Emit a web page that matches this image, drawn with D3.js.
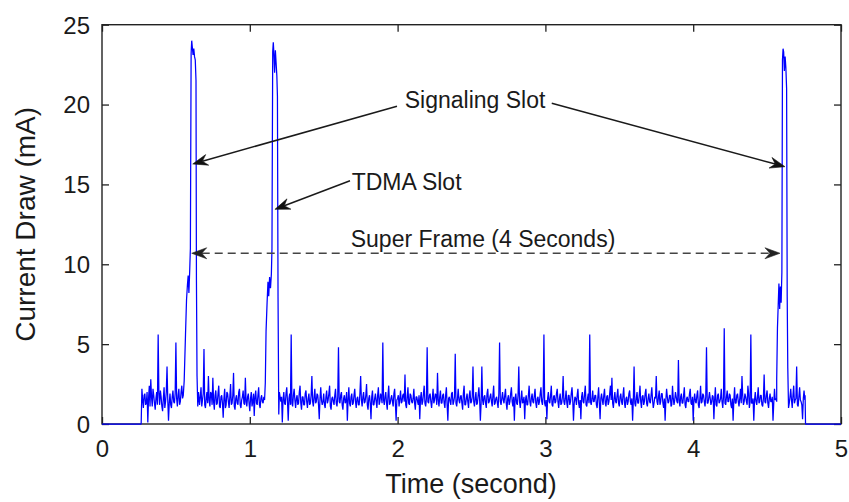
<!DOCTYPE html>
<html>
<head>
<meta charset="utf-8">
<script src="https://cdn.jsdelivr.net/npm/d3@7"></script>
<style>
  html, body { margin: 0; padding: 0; background: #fff; }
  svg { display: block; }
  text { font-family: "Liberation Sans", Arial, Helvetica, sans-serif; fill: #1a1a1a; }
</style>
</head>
<body>
<svg id="chart" width="849" height="502"></svg>
<script>
// ---------------- DATA ----------------
const xTicks = [0, 1, 2, 3, 4, 5];
const yTicks = [0, 5, 10, 15, 20, 25];
const xLabel = "Time (second)";
const yLabel = "Current Draw (mA)";

const sampleStep = 0.01; // seconds between the "even" noise samples; "odd" samples sit half-way

// quiet period before the radio wakes up
const leadIn = [[0, 0], [0.265, 0]];

// baseline noise segments (mA)
const segAStart = 0.27;
const segA = [2.2, 1.0, 1.9, 1.3, 0.1, 2.4, 2.8, 1.1, 1.8, 0.9,
              2.0, 5.6, 1.2, 1.7, 0.8, 2.3, 1.4, 3.6, 0.2, 1.9,
              1.0, 2.1, 1.3, 5.1, 1.1, 2.2, 1.4, 2.4];
const segAOdd = [1.5, 1.8, 1.2, 2.0, 1.6, 1.1, 1.7, 2.2, 1.3, 1.6,
                 1.2, 1.9, 2.1, 1.1, 1.6, 1.0, 2.0, 1.5, 1.3, 1.2,
                 1.7, 1.4, 1.9, 1.6, 1.8, 1.2, 2.0, 1.6];

const spike1 = [[0.55, 1.8], [0.556, 2.7], [0.565, 5.6], [0.572, 7.8], [0.578, 8.7],
                [0.583, 9.3], [0.588, 8.2], [0.593, 9.5], [0.598, 11.0], [0.603, 23.2],
                [0.607, 24.0], [0.611, 23.6], [0.616, 23.1], [0.621, 23.5], [0.626, 23.0],
                [0.631, 22.8], [0.636, 21.5], [0.639, 9.0], [0.643, 3.0], [0.648, 1.1], [0.653, 2.0]];

const segBStart = 0.66;
const segB = [1.2, 2.3, 1.5, 4.7, 1.0, 2.0, 3.0, 1.1, 1.9, 2.9,
              0.9, 2.1, 1.3, 2.4, 1.0, 1.8, 0.4, 2.2, 1.2, 1.9,
              1.0, 2.5, 1.3, 3.2, 0.9, 1.8, 1.2, 2.2, 1.0, 1.7,
              1.3, 2.9, 1.1, 1.9, 0.8, 2.0, 1.4, 0.5, 2.1, 1.2,
              2.3, 1.0, 1.8, 1.3];
const segBOdd = [1.7, 1.1, 1.9, 1.2, 1.6, 1.3, 1.5, 2.0, 1.2, 1.4,
                 1.8, 1.2, 1.9, 1.1, 1.7, 1.3, 1.6, 1.0, 2.0, 1.4,
                 1.7, 1.2, 1.8, 1.1, 1.6, 1.3, 2.0, 1.2, 1.5, 2.1,
                 1.2, 1.4, 1.7, 1.3, 1.6, 1.1, 1.9, 1.7, 1.3, 1.8,
                 1.2, 1.6, 1.4, 1.7];

const spike2 = [[1.10, 1.5], [1.105, 2.6], [1.11, 5.8], [1.117, 7.6], [1.123, 8.9],
                [1.128, 8.0], [1.134, 9.2], [1.14, 8.5], [1.146, 9.4], [1.150, 11.0],
                [1.155, 23.3], [1.159, 23.9], [1.163, 23.2], [1.168, 22.0], [1.173, 23.4],
                [1.178, 22.6], [1.183, 21.8], [1.187, 20.5], [1.191, 8.0], [1.196, 0.6], [1.20, 2.0]];

const segCStart = 1.21;
const segC = [1.4, 0.1, 2.0, 1.2, 2.3, 0.2, 1.9, 5.6, 1.1, 2.2,
              1.0, 1.8, 1.3, 2.4, 0.9, 1.7, 1.2, 2.1, 1.0, 1.9,
              1.3, 3.0, 1.1, 2.2, 1.4, 1.8, 0.3, 2.3, 1.2, 1.9,
              1.0, 2.1, 1.5, 2.4, 0.9, 1.7, 1.2, 2.2, 1.1, 4.8,
              1.3, 2.0, 0.9, 1.8, 1.4, 0.2, 2.3, 1.1, 1.9, 1.3,
              2.2, 1.0, 1.7, 1.2, 3.0, 1.1, 2.0, 1.4, 2.5, 0.9,
              1.8, 0.3, 2.1, 1.2, 1.9, 1.0, 2.3, 1.4, 1.7, 5.1,
              1.2, 2.0, 0.9, 2.4, 1.3, 1.8, 1.1, 2.2, 0.2, 1.6,
              1.1, 2.1, 1.4, 1.9, 3.1, 1.0, 2.3, 1.2, 1.8, 1.3,
              2.2, 0.9, 1.7, 1.2, 0.3, 2.0, 1.4, 2.4, 1.1, 4.8,
              1.3, 1.9, 1.0, 2.2, 1.5, 1.8, 3.2, 1.1, 2.1, 1.3,
              1.9, 1.0, 2.3, 0.2, 1.7, 1.2, 2.0, 1.4, 4.4, 1.1,
              2.2, 1.3, 1.8, 0.9, 2.4, 1.2, 1.9, 1.0, 2.1, 1.4,
              3.6, 1.1, 2.0, 1.3, 2.3, 0.2, 3.6, 1.2, 1.8, 1.0,
              2.2, 1.4, 1.9, 1.1, 2.4, 1.3, 1.7, 1.0, 5.1, 1.2,
              2.0, 1.3, 2.2, 0.9, 1.8, 1.4, 2.3, 1.1, 0.2, 1.9,
              1.2, 3.6, 1.0, 2.1, 1.4, 0.3, 1.8, 1.2, 2.4, 1.1,
              1.9, 1.3, 2.2, 1.0, 1.7, 1.4, 2.3, 1.2, 5.6, 1.1,
              0.3, 2.0, 1.3, 2.4, 1.1, 1.8, 1.4, 2.2, 1.0, 1.9,
              1.3, 3.0, 1.2, 2.1, 1.0, 1.8, 1.4, 2.3, 0.2, 1.7,
              1.2, 2.2, 1.0, 0.3, 2.0, 1.3, 2.4, 1.1, 1.9, 5.6,
              1.2, 2.1, 1.4, 1.8, 1.0, 2.3, 0.3, 1.9, 1.2, 2.2,
              1.1, 1.8, 1.4, 2.4, 2.9, 1.0, 2.0, 1.3, 2.2, 1.1,
              1.9, 1.2, 2.3, 1.0, 1.7, 1.4, 2.1, 1.2, 0.2, 3.6,
              1.1, 2.0, 1.3, 2.4, 1.0, 1.8, 1.4, 2.2, 1.1, 1.9,
              1.3, 2.3, 1.0, 1.7, 3.0, 1.2, 2.1, 1.4, 1.9, 1.0,
              0.2, 2.2, 1.3, 1.8, 1.1, 2.4, 1.2, 2.0, 1.4, 4.0,
              1.1, 1.9, 1.3, 2.3, 1.0, 1.7, 1.4, 2.2, 1.2, 0.2,
              1.9, 1.3, 2.1, 1.0, 2.4, 1.4, 1.8, 1.1, 4.8, 1.3,
              2.0, 1.2, 1.8, 0.3, 2.3, 1.1, 1.9, 1.4, 2.2, 1.0,
              6.0, 1.2, 2.1, 1.4, 1.8, 1.0, 0.2, 2.3, 1.3, 1.9,
              1.1, 2.2, 3.0, 1.2, 1.9, 1.4, 2.4, 1.0, 5.6, 1.3,
              0.2, 2.0, 1.2, 2.3, 1.4, 1.8, 1.1, 3.1, 1.3, 2.1,
              1.0, 1.9, 1.4, 0.2, 2.2, 1.6];
const segCOdd = [1.7, 1.5, 1.3, 1.9, 1.4, 1.6, 1.2, 1.3, 1.8, 1.5,
                 1.6, 1.2, 2.0, 1.3, 1.7, 1.2, 1.9, 1.4, 1.6, 1.2,
                 1.8, 1.4, 1.7, 1.3, 1.9, 1.2, 1.6, 1.5, 1.4, 1.2,
                 1.7, 1.3, 1.9, 1.1, 1.6, 1.4, 1.8, 1.3, 1.7, 1.4,
                 1.8, 1.2, 1.6, 1.3, 2.0, 1.5, 1.3, 1.7, 1.2, 1.8,
                 1.4, 1.6, 1.2, 1.9, 1.5, 1.7, 1.3, 1.8, 1.2, 1.6,
                 1.3, 1.7, 1.2, 1.6, 1.4, 1.8, 1.2, 1.9, 1.3, 1.5,
                 1.7, 1.3, 1.8, 1.2, 1.6, 1.4, 1.9, 1.3, 1.5, 1.8,
                 1.6, 1.3, 1.8, 1.4, 1.2, 1.7, 1.3, 1.9, 1.4, 1.6,
                 1.3, 1.7, 1.4, 1.8, 1.6, 1.2, 1.9, 1.3, 1.6, 1.4,
                 1.8, 1.4, 1.6, 1.3, 1.9, 1.2, 1.5, 1.7, 1.3, 1.8,
                 1.3, 1.8, 1.2, 1.6, 1.4, 1.9, 1.2, 1.7, 1.3, 1.6,
                 1.5, 1.7, 1.3, 1.9, 1.2, 1.6, 1.4, 1.8, 1.3, 1.7,
                 1.4, 1.6, 1.2, 1.8, 1.5, 1.3, 1.5, 1.7, 1.3, 1.9,
                 1.3, 1.7, 1.4, 1.8, 1.2, 1.6, 1.3, 1.9, 1.4, 1.6,
                 1.5, 1.8, 1.3, 1.6, 1.2, 1.9, 1.4, 1.7, 1.6, 1.3,
                 1.8, 1.4, 1.6, 1.3, 1.7, 1.5, 1.2, 1.8, 1.4, 1.6,
                 1.4, 1.8, 1.3, 1.6, 1.2, 1.9, 1.4, 1.7, 1.3, 1.5,
                 1.6, 1.4, 1.8, 1.2, 1.7, 1.3, 1.9, 1.4, 1.6, 1.2,
                 1.7, 1.4, 1.6, 1.3, 1.8, 1.2, 1.9, 1.5, 1.3, 1.6,
                 1.8, 1.3, 1.5, 1.7, 1.4, 1.9, 1.2, 1.6, 1.3, 1.4,
                 1.6, 1.4, 1.8, 1.2, 1.7, 1.3, 1.6, 1.5, 1.8, 1.3,
                 1.7, 1.2, 1.9, 1.5, 1.3, 1.6, 1.4, 1.8, 1.3, 1.7,
                 1.4, 1.8, 1.3, 1.6, 1.2, 1.9, 1.4, 1.6, 1.5, 1.3,
                 1.6, 1.3, 1.8, 1.4, 1.7, 1.2, 1.9, 1.3, 1.6, 1.4,
                 1.8, 1.5, 1.3, 1.6, 1.4, 1.7, 1.2, 1.9, 1.3, 1.6,
                 1.5, 1.7, 1.4, 1.8, 1.2, 1.6, 1.5, 1.7, 1.3, 1.5,
                 1.7, 1.3, 1.8, 1.2, 1.6, 1.4, 1.9, 1.3, 1.7, 1.5,
                 1.4, 1.8, 1.2, 1.6, 1.3, 1.9, 1.4, 1.7, 1.3, 1.6,
                 1.6, 1.4, 1.7, 1.5, 1.2, 1.8, 1.3, 1.6, 1.4, 1.7,
                 1.3, 1.7, 1.4, 1.9, 1.2, 1.6, 1.5, 1.3, 1.8, 1.4,
                 1.6, 1.3, 1.8, 1.4, 1.7, 1.2, 1.9, 1.4, 1.3, 1.6,
                 1.5, 1.4, 1.7, 1.3, 1.8, 1.2, 1.6, 1.4, 1.8, 1.3,
                 1.6, 1.4, 1.7, 1.3, 1.5, 1.4];

const spike3 = [[4.565, 2.8], [4.57, 6.0], [4.575, 7.4], [4.58, 8.8], [4.585, 7.2],
                [4.59, 8.6], [4.595, 7.6], [4.60, 9.5], [4.604, 22.8], [4.608, 23.5],
                [4.612, 23.3], [4.617, 22.1], [4.622, 23.0], [4.627, 22.3], [4.632, 21.0],
                [4.636, 8.0], [4.64, 3.5], [4.645, 1.0]];

const segDStart = 4.65;
const segD = [1.3, 2.2, 1.0, 2.4, 1.5, 3.6, 1.1, 2.3, 1.4, 0.3, 2.1];
const segDOdd = [1.7, 1.5, 1.8, 1.3, 1.6, 1.2, 1.7, 1.5, 1.2, 1.6, 1.5];

const tailOut = [[4.757, 1.8], [4.76, 0], [5, 0]];

// annotations (data coordinates: seconds, mA)
const annotationTexts = ["Signaling Slot", "TDMA Slot", "Super Frame (4 Seconds)"];
const annotationAnchors = [[2.524, 19.8, "middle"], [1.689, 14.65, "start"], [2.578, 11.1, "middle"]];
const solidArrows = [
  [[1.996, 19.9], [0.614, 16.28]],
  [[3.043, 20.08], [4.621, 16.11]],
  [[1.678, 15.23], [1.170, 13.44]]
];
const frameArrow = [[0.607, 10.69], [4.587, 10.69]];

// ---------------- BUILD ----------------
function sampled(start, even, odd) {
  const out = [];
  even.forEach((v, i) => {
    out.push([start + i * sampleStep, v]);
    if (odd && i < odd.length) out.push([start + (i + 0.5) * sampleStep, odd[i]]);
  });
  return out;
}
const trace = [].concat(
  leadIn, sampled(segAStart, segA, segAOdd), spike1,
  sampled(segBStart, segB, segBOdd), spike2,
  sampled(segCStart, segC, segCOdd), spike3,
  sampled(segDStart, segD, segDOdd), tailOut
);

const svg = d3.select("#chart");
const plot = { left: 102, right: 841, top: 24.7, bottom: 424 };

const x = d3.scaleLinear().domain([0, 5]).range([plot.left, plot.right]);
const y = d3.scaleLinear().domain([0, 25]).range([plot.bottom, plot.top]);

const frameColor = "#222";
const tickLen = 7;
const fmt = d3.format("d");

// axes with inward ticks
const axisBottom = d3.axisBottom(x).tickValues(xTicks).tickFormat(fmt).tickSizeInner(-tickLen).tickSizeOuter(0);
const axisLeft = d3.axisLeft(y).tickValues(yTicks).tickFormat(fmt).tickSizeInner(-tickLen).tickSizeOuter(0);
const axisTop = d3.axisTop(x).tickValues(xTicks).tickSizeInner(-tickLen).tickSizeOuter(0).tickFormat("");
const axisRight = d3.axisRight(y).tickValues(yTicks).tickSizeInner(-tickLen).tickSizeOuter(0).tickFormat("");

function styleAxis(g) {
  g.select(".domain").remove();
  g.selectAll(".tick line").attr("stroke", frameColor).attr("stroke-width", 1.3);
  g.selectAll(".tick text").attr("fill", "#1a1a1a").style("font-size", "24px")
    .style("font-family", "'Liberation Sans', Arial, sans-serif");
}

svg.append("g").attr("transform", `translate(0,${plot.bottom})`).call(axisBottom).call(styleAxis)
  .selectAll(".tick text").attr("y", 16).attr("dy", "0.71em");
svg.append("g").attr("transform", `translate(${plot.left},0)`).call(axisLeft).call(styleAxis)
  .selectAll(".tick text").attr("x", -12).attr("dy", "0.35em");
svg.append("g").attr("transform", `translate(0,${plot.top})`).call(axisTop).call(styleAxis);
svg.append("g").attr("transform", `translate(${plot.right},0)`).call(axisRight).call(styleAxis);

// frame
svg.append("rect")
  .attr("x", plot.left).attr("y", plot.top)
  .attr("width", plot.right - plot.left).attr("height", plot.bottom - plot.top)
  .attr("fill", "none").attr("stroke", frameColor).attr("stroke-width", 1.4);

// trace
const line = d3.line().x(d => x(d[0])).y(d => y(d[1]));
svg.append("path").datum(trace)
  .attr("d", line)
  .attr("fill", "none")
  .attr("stroke", "#0000ff")
  .attr("stroke-width", 1.25)
  .attr("stroke-linejoin", "bevel");

// axis titles
svg.append("text")
  .attr("x", (plot.left + plot.right) / 2 - 0.5).attr("y", 493)
  .attr("text-anchor", "middle").style("font-size", "27px")
  .text(xLabel);
svg.append("text")
  .attr("transform", `translate(35,${(plot.top + plot.bottom) / 2}) rotate(-90)`)
  .attr("text-anchor", "middle").style("font-size", "28px")
  .text(yLabel);

// arrows
function arrowHead(g, from, to, color) {
  const [x0, y0] = from, [x1, y1] = to;
  const ang = Math.atan2(y1 - y0, x1 - x0);
  const L = 15, W = 5.5, notch = 10;
  const ca = Math.cos(ang), sa = Math.sin(ang);
  const bx = x1 - L * ca, by = y1 - L * sa;
  const nx = x1 - notch * ca, ny = y1 - notch * sa;
  const p = [
    [x1, y1],
    [bx - W * sa, by + W * ca],
    [nx, ny],
    [bx + W * sa, by - W * ca]
  ];
  g.append("path").attr("d", "M" + p.map(q => q.join(",")).join("L") + "Z")
    .attr("fill", color).attr("stroke", color).attr("stroke-width", 0.6);
}

const ann = svg.append("g");
solidArrows.forEach(([a, b]) => {
  const p0 = [x(a[0]), y(a[1])], p1 = [x(b[0]), y(b[1])];
  const ang = Math.atan2(p1[1] - p0[1], p1[0] - p0[0]);
  ann.append("line")
    .attr("x1", p0[0]).attr("y1", p0[1])
    .attr("x2", p1[0] - 10 * Math.cos(ang)).attr("y2", p1[1] - 10 * Math.sin(ang))
    .attr("stroke", "#1a1a1a").attr("stroke-width", 1.5);
  arrowHead(ann, p0, p1, "#111");
});

{
  const p0 = [x(frameArrow[0][0]), y(frameArrow[0][1])];
  const p1 = [x(frameArrow[1][0]), y(frameArrow[1][1])];
  ann.append("line")
    .attr("x1", p0[0] + 10).attr("y1", p0[1])
    .attr("x2", p1[0] - 10).attr("y2", p1[1])
    .attr("stroke", "#444").attr("stroke-width", 1.5)
    .attr("stroke-dasharray", "8,5");
  arrowHead(ann, p1, p0, "#222");
  arrowHead(ann, p0, p1, "#222");
}

annotationTexts.forEach((t, i) => {
  const [ax, ay, anchor] = annotationAnchors[i];
  ann.append("text")
    .attr("x", x(ax)).attr("y", y(ay))
    .attr("text-anchor", anchor)
    .style("font-size", "23px")
    .text(t);
});
</script>
</body>
</html>
